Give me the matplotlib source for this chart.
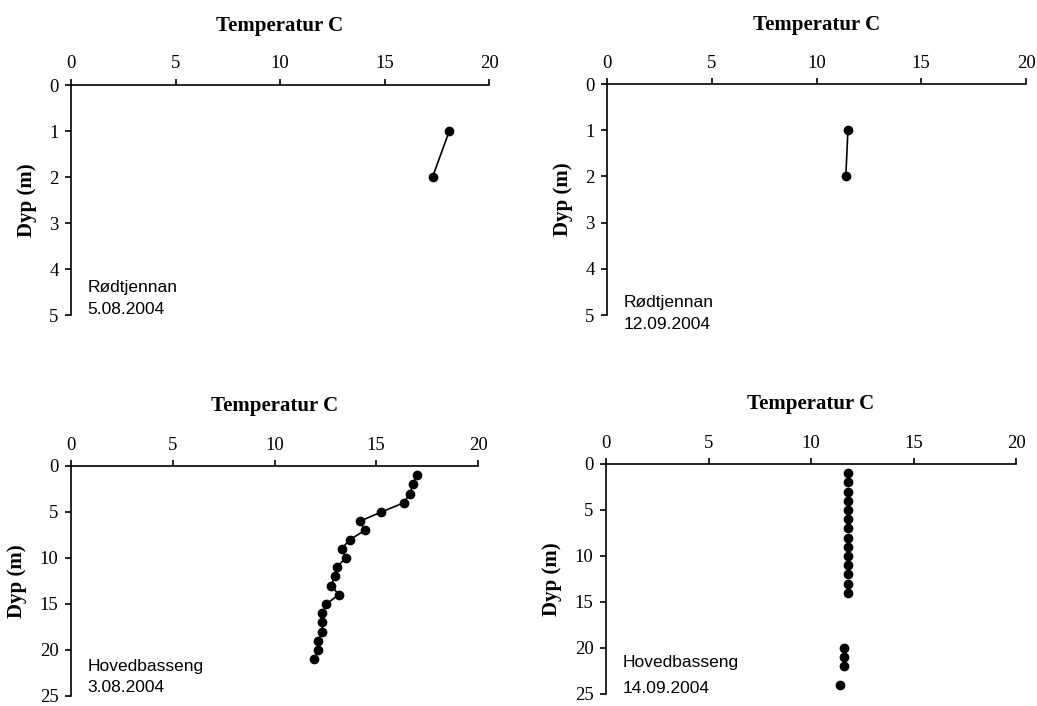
import matplotlib
matplotlib.use("Agg")
import matplotlib.pyplot as plt

# ── data ────────────────────────────────────────────────────────────────────
rod_aug_depth = [1, 2]
rod_aug_temp = [18.1, 17.3]

rod_sep_depth = [1, 2]
rod_sep_temp = [11.5, 11.4]

hov_aug_depth = list(range(1, 22))
hov_aug_temp = [17.0, 16.8, 16.65, 16.35, 15.25, 14.2, 14.45, 13.7, 13.3, 13.5,
                13.05, 12.95, 12.8, 13.15, 12.55, 12.35, 12.35, 12.35, 12.15,
                12.15, 11.95]

hov_sep_depth = [1, 2, 3, 4, 5, 6, 7, 8, 9, 10, 11, 12, 13, 14, 20, 21, 22, 24]
hov_sep_temp = [11.8] * 14 + [11.6, 11.6, 11.6, 11.4]

temp_ticks = [0, 5, 10, 15, 20]

W, H = 1037, 706
SERIF = "Liberation Serif"
SANS = "Liberation Sans"


def _axes(fig, left, right, top, bottom):
    return fig.add_axes([left / W, 1 - bottom / H, (right - left) / W, (bottom - top) / H])


def _style(ax, ymax, ystep):
    ax.set_xlim(0, 20)
    ax.set_ylim(ymax, 0)
    ax.set_xticks(temp_ticks)
    ax.set_yticks(range(0, ymax + 1, ystep))
    ax.xaxis.tick_top()
    ax.xaxis.set_label_position("top")
    for s in ("bottom", "right"):
        ax.spines[s].set_visible(False)
    for s in ("top", "left"):
        ax.spines[s].set_linewidth(1.2)
    ax.tick_params(direction="out", length=4, width=1.2, labelsize=13.5, pad=5)
    for lab in ax.get_xticklabels() + ax.get_yticklabels():
        lab.set_fontfamily(SERIF)
    ax.set_xlabel("Temperatur C", fontsize=15, fontweight="bold",
                  fontfamily=SERIF, labelpad=18)
    ax.set_ylabel("Dyp (m)", fontsize=15, fontweight="bold",
                  fontfamily=SERIF, labelpad=9)
    ax.patch.set_alpha(0)


def _note(ax, y1, y2, name, date):
    ax.text(0.04, y1, name, transform=ax.transAxes, fontsize=12.5,
            fontfamily=SANS, va="center", ha="left", clip_on=False)
    ax.text(0.04, y2, date, transform=ax.transAxes, fontsize=12.5,
            fontfamily=SANS, va="center", ha="left", clip_on=False)


fig = plt.figure(figsize=(W / 100, H / 100), dpi=100)

ax1 = _axes(fig, 71, 489, 85, 315)
ax1.plot(rod_aug_temp, rod_aug_depth, color="black", lw=1.2, marker="o", ms=6)
_style(ax1, 5, 1)
_note(ax1, 0.12, 0.026, "Rødtjennan", "5.08.2004")

ax2 = _axes(fig, 607, 1026, 84, 315)
ax2.plot(rod_sep_temp, rod_sep_depth, color="black", lw=1.2, marker="o", ms=6)
_style(ax2, 5, 1)
_note(ax2, 0.056, -0.039, "Rødtjennan", "12.09.2004")

ax3 = _axes(fig, 71, 478, 466, 696)
ax3.plot(hov_aug_temp, hov_aug_depth, color="black", lw=1.2, marker="o", ms=6)
_style(ax3, 25, 5)
_note(ax3, 0.13, 0.035, "Hovedbasseng", "3.08.2004")

ax4 = _axes(fig, 606, 1016, 464, 694)
ax4.plot(hov_sep_temp, hov_sep_depth, color="black", lw=0, marker="o", ms=6)
_style(ax4, 25, 5)
_note(ax4, 0.135, 0.025, "Hovedbasseng", "14.09.2004")

fig.savefig("out.png", dpi=100)
